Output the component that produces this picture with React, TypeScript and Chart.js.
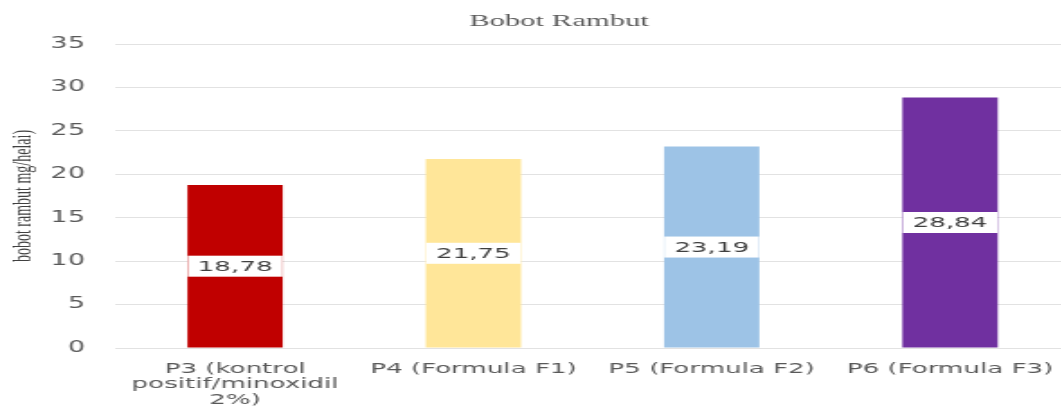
import { useEffect, useRef } from "react";
import { Chart, registerables } from "chart.js";

Chart.register(...registerables);

const TITLE = "Bobot Rambut";
const Y_TITLE = "bobot rambut mg/helai)";
const categories: (string | string[])[] = [
  ["P3 (kontrol", "positif/minoxidil", "2%)"],
  "P4 (Formula F1)",
  "P5 (Formula F2)",
  "P6 (Formula F3)",
];
const values = [18.78, 21.75, 23.19, 28.84];
const barColors = ["#C00000", "#FFE699", "#9DC3E6", "#7030A0"];
const Y_MIN = 0;
const Y_MAX = 35;
const Y_STEP = 5;

// The reference is horizontally stretched; reproduce by scaling the canvas.
const SX = 1.8;
const CANVAS_W = 594;
const CANVAS_H = 409;

const fmt = (v: number) => v.toFixed(2).replace(".", ",");

const titlePlugin = {
  id: "customTitle",
  afterDraw(chart: any) {
    const ctx = chart.ctx;
    ctx.save();
    ctx.font = "17px 'Liberation Serif', serif";
    ctx.fillStyle = "#595959";
    ctx.textAlign = "center";
    ctx.textBaseline = "alphabetic";
    ctx.fillText(TITLE, 310.6, 26);
    ctx.restore();
  },
};

const labelPlugin = {
  id: "boxLabels",
  afterDatasetsDraw(chart: any) {
    const ctx = chart.ctx;
    const meta = chart.getDatasetMeta(0);
    ctx.save();
    ctx.font = "14.5px 'DejaVu Sans', sans-serif";
    ctx.textAlign = "center";
    ctx.textBaseline = "middle";
    meta.data.forEach((bar: any, i: number) => {
      const text = fmt(values[i]);
      const cy = (bar.y + bar.base) / 2;
      const tw = ctx.measureText(text).width;
      const w = tw + 11;
      const h = 21;
      ctx.fillStyle = "#ffffff";
      ctx.fillRect(bar.x - w / 2, cy - h / 2, w, h);
      ctx.fillStyle = "#404040";
      ctx.fillText(text, bar.x, cy + 1);
    });
    ctx.restore();
  },
};

export default function App() {
  const ref = useRef<HTMLCanvasElement>(null);
  useEffect(() => {
    const canvas = ref.current!;
    const chart = new Chart(canvas, {
      type: "bar",
      data: {
        labels: categories,
        datasets: [
          {
            data: values,
            backgroundColor: barColors,
            borderWidth: 0,
            barPercentage: 0.4,
            categoryPercentage: 1,
          },
        ],
      },
      options: {
        responsive: false,
        animation: false,
        devicePixelRatio: 1,
        layout: { padding: { top: 44, left: 0, right: 0, bottom: 0 } },
        plugins: {
          legend: { display: false },
          title: { display: false },
          tooltip: { enabled: false },
        },
        scales: {
          x: {
            grid: { display: false, drawTicks: false },
            border: { display: false },
            ticks: {
              color: "#595959",
              font: { family: "'DejaVu Sans', sans-serif", size: 14.5, lineHeight: 1.08 },
              padding: 13,
              maxRotation: 0,
              minRotation: 0,
              autoSkip: false,
            },
            afterFit(scale: any) {
              scale.height = 61;
              scale.paddingLeft = 0;
              scale.paddingRight = 0;
            },
          },
          y: {
            min: Y_MIN,
            max: Y_MAX,
            grid: { color: "#e2e2e2", drawTicks: false, lineWidth: 1 },
            border: { display: false },
            ticks: {
              stepSize: Y_STEP,
              color: "#595959",
              font: { family: "'DejaVu Sans', sans-serif", size: 15 },
              padding: 17.2,
            },
            title: {
              display: true,
              text: Y_TITLE,
              color: "#404040",
              font: { family: "'Liberation Serif', serif", size: 14 },
              padding: { top: 5, bottom: 0 },
            },
            afterFit(scale: any) {
              scale.width = 64.4;
            },
          },
        },
      },
      plugins: [titlePlugin, labelPlugin],
    } as any);
    return () => chart.destroy();
  }, []);

  return (
    <div
      style={{
        position: "absolute",
        left: 0,
        top: 0,
        width: 1061,
        height: CANVAS_H,
        overflow: "hidden",
        background: "#ffffff",
      }}
    >
      <div
        style={{
          transform: `scaleX(${SX})`,
          transformOrigin: "0 0",
          width: CANVAS_W,
          height: CANVAS_H,
        }}
      >
        <canvas
          ref={ref}
          width={CANVAS_W}
          height={CANVAS_H}
          style={{ display: "block", width: CANVAS_W, height: CANVAS_H }}
        />
      </div>
    </div>
  );
}
